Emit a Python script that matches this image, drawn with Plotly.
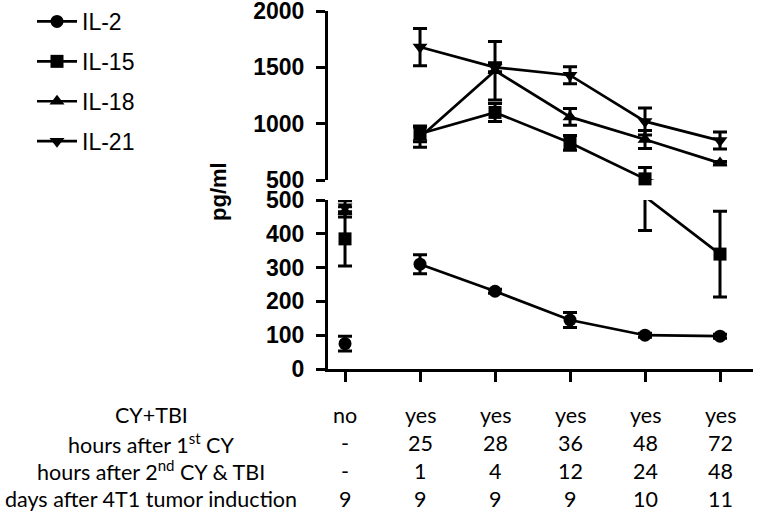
import plotly.graph_objects as go

# ---------------- data ----------------
col_positions = [0, 1, 2, 3, 4, 5]
cy_tbi = ["no", "yes", "yes", "yes", "yes", "yes"]
hours_after_1st_cy = ["-", "25", "28", "36", "48", "72"]
hours_after_2nd_cy_tbi = ["-", "1", "4", "12", "24", "48"]
days_after_tumor = ["9", "9", "9", "9", "10", "11"]
row_labels = ["CY+TBI", "hours after 1<sup>st</sup> CY",
              "hours after 2<sup>nd</sup> CY &amp; TBI", "days after 4T1 tumor induction"]

series_names = ["IL-2", "IL-15", "IL-18", "IL-21"]
series_symbols = ["circle", "square", "triangle-up", "triangle-down"]
il2 = [75, 310, 230, 145, 100, 97]
il2_err = [22, 28, 6, 22, 6, 6]
il15 = [385, 910, 1100, 830, 510, 340]
il15_err = [80, 70, 80, 65, 100, 127]
il18 = [465, 880, 1470, 1060, 860, 650]
il18_err = [15, 90, 260, 75, 80, 15]
il21 = [480, 1680, 1500, 1430, 1020, 850]
il21_err = [18, 165, 40, 75, 120, 75]

lower_ticks = [0, 100, 200, 300, 400, 500]
upper_ticks = [500, 1000, 1500, 2000]
break_value = 500

values = [il2, il15, il18, il21]
errors = [il2_err, il15_err, il18_err, il21_err]

# ---------------- figure ----------------
W, H = 774, 513
L, R, T, B = 328, 21, 11, 144
plot_w = W - L - R
plot_h = H - T - B
lower_top_px, upper_bot_px = 200, 180
lower_dom = [0, (H - B - lower_top_px) / plot_h]
upper_dom = [(H - B - upper_bot_px) / plot_h, 1]

fig = go.Figure()
LW = 2.7
MS = 13
err_style = dict(type="data", visible=True, color="black", thickness=3, width=7)

panels = [("x", "y", lower_ticks[0], break_value), ("x2", "y2", break_value, upper_ticks[-1])]


def overlaps(vals, errs, lo, hi):
    return any((v + e) > lo and (v - e) < hi for v, e in zip(vals, errs))


for name, sym, vals, errs in zip(series_names, series_symbols, values, errors):
    for xa, ya, lo, hi in panels:
        # treated time course: line + error bars (clipped to panel)
        if overlaps(vals[1:], errs[1:], lo, hi):
            fig.add_trace(go.Scatter(
                x=col_positions[1:], y=vals[1:], mode="lines",
                line=dict(color="black", width=LW),
                error_y=dict(array=errs[1:], **err_style),
                xaxis=xa, yaxis=ya, showlegend=False, cliponaxis=True, hoverinfo="skip"))
        # untreated control: error bar only (clipped)
        if overlaps(vals[:1], errs[:1], lo, hi):
            fig.add_trace(go.Scatter(
                x=col_positions[:1], y=vals[:1], mode="lines",
                line=dict(color="black", width=LW),
                error_y=dict(array=errs[:1], **err_style),
                xaxis=xa, yaxis=ya, showlegend=False, cliponaxis=True, hoverinfo="skip"))
        # markers for the points that belong to this panel (not clipped)
        if ya == "y":
            yy = [v if v <= break_value else None for v in vals]
        else:
            yy = [v if v > break_value else None for v in vals]
        if any(v is not None for v in yy):
            fig.add_trace(go.Scatter(
                x=col_positions, y=yy, mode="markers",
                marker=dict(symbol=sym, size=MS, color="black"),
                xaxis=xa, yaxis=ya, showlegend=False, cliponaxis=False, hoverinfo="skip"))
    # legend entry
    fig.add_trace(go.Scatter(
        x=[None], y=[None], mode="lines+markers", name=name, legendgroup=name,
        line=dict(color="black", width=LW),
        marker=dict(symbol=sym, size=MS, color="black")))

xrange = [-0.227, 5.44]
axis_font = dict(family="Liberation Sans, Arial", size=23, color="black", weight="bold")

fig.update_layout(
    width=W, height=H,
    margin=dict(l=L, r=R, t=T, b=B, autoexpand=False),
    paper_bgcolor="white", plot_bgcolor="white",
    showlegend=True,
    legend=dict(x=(32 - L) / plot_w, y=1 + (T - 0) / plot_h, xanchor="left", yanchor="top",
                font=dict(family="Liberation Sans, Arial", size=23, color="black"),
                tracegroupgap=7, bgcolor="rgba(0,0,0,0)", itemwidth=40),
    xaxis=dict(domain=[0, 1], range=xrange, showgrid=False, zeroline=False,
               showline=True, linecolor="black", linewidth=3,
               tickmode="array", tickvals=col_positions, ticktext=[""] * len(col_positions),
               ticks="outside", ticklen=10, tickwidth=3, tickcolor="black", anchor="y"),
    xaxis2=dict(domain=[0, 1], range=xrange, visible=False, anchor="y2", matches="x"),
    yaxis=dict(domain=lower_dom, range=[lower_ticks[0], lower_ticks[-1]], tickvals=lower_ticks,
               showgrid=False, zeroline=False, showline=True, linecolor="black", linewidth=3,
               ticks="outside", ticklen=9, tickwidth=3, tickcolor="black",
               tickfont=axis_font, ticklabelstandoff=7, ticklabeloverflow="allow", anchor="x"),
    yaxis2=dict(domain=upper_dom, range=[upper_ticks[0], upper_ticks[-1]], tickvals=upper_ticks,
                showgrid=False, zeroline=False, showline=True, linecolor="black", linewidth=3,
                ticks="outside", ticklen=9, tickwidth=3, tickcolor="black",
                tickfont=axis_font, ticklabelstandoff=7, ticklabeloverflow="allow", anchor="x2"),
)

# y-axis title
fig.add_annotation(text="<b>pg/ml</b>", xref="paper", yref="paper",
                   x=(218 - L) / plot_w, y=(H - B - 192) / plot_h,
                   textangle=-90, showarrow=False, xanchor="center", yanchor="middle",
                   font=dict(family="Liberation Sans, Arial", size=22, color="black"))

# table below the chart
table_font = dict(family="Lato, Carlito, Liberation Sans", size=21.5, color="black")
row_px = [415, 443, 471, 499]
rows = [cy_tbi, hours_after_1st_cy, hours_after_2nd_cy_tbi, days_after_tumor]
for label, row, ypx in zip(row_labels, rows, row_px):
    yp = (H - B - ypx) / plot_h
    fig.add_annotation(text=label, xref="paper", yref="paper",
                       x=(151 - L) / plot_w, y=yp, showarrow=False,
                       xanchor="center", yanchor="middle", font=table_font)
    for xpos, val in zip(col_positions, row):
        fig.add_annotation(text=val, xref="x", yref="paper", x=xpos, y=yp, showarrow=False,
                           xanchor="center", yanchor="middle", font=table_font)

fig.write_html("out.html", config={"displayModeBar": False},
               post_script="document.body.style.margin='0px';document.body.style.overflow='hidden';")
